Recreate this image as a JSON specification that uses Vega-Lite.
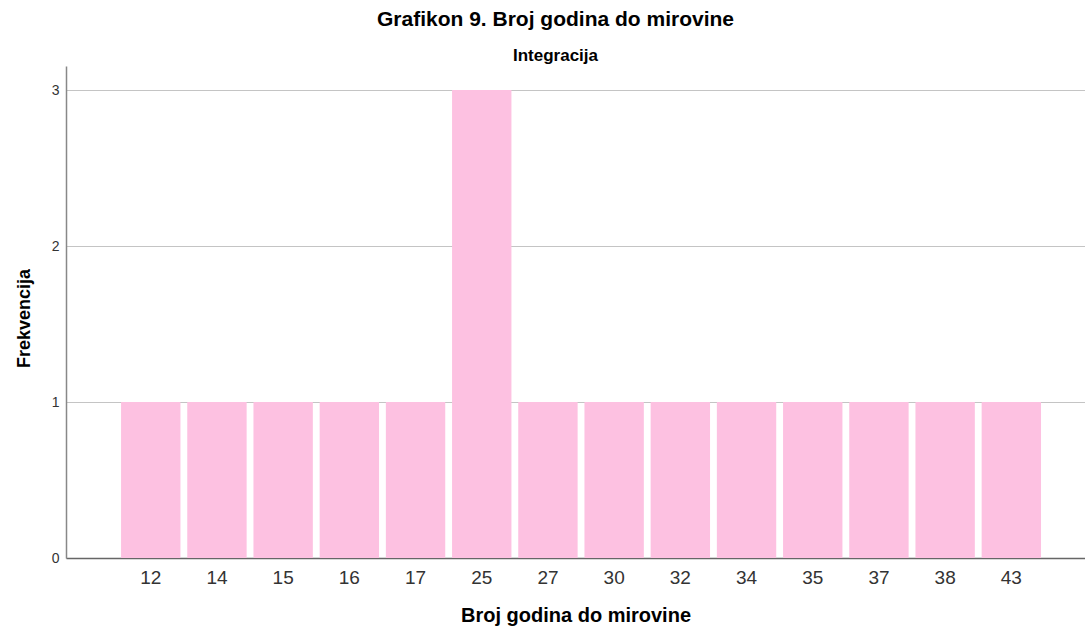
{
  "$schema": "https://vega.github.io/schema/vega-lite/v6.json",
  "autosize": {"type": "none"},
  "padding": {"left": 66, "top": 66, "right": 0, "bottom": 75},
  "width": 1019,
  "height": 492,
  "background": "white",
  "title": {
    "text": "Grafikon 9. Broj godina do mirovine",
    "subtitle": "Integracija",
    "anchor": "middle",
    "dx": -20,
    "font": "Liberation Sans",
    "fontSize": 21,
    "fontWeight": "bold",
    "color": "#000000",
    "subtitleFont": "Liberation Sans",
    "subtitleFontSize": 17,
    "subtitleFontWeight": "bold",
    "subtitleColor": "#000000",
    "subtitlePadding": 18,
    "offset": 2
  },
  "data": {
    "values": [
      {"godine": "12", "frekvencija": 1},
      {"godine": "14", "frekvencija": 1},
      {"godine": "15", "frekvencija": 1},
      {"godine": "16", "frekvencija": 1},
      {"godine": "17", "frekvencija": 1},
      {"godine": "25", "frekvencija": 3},
      {"godine": "27", "frekvencija": 1},
      {"godine": "30", "frekvencija": 1},
      {"godine": "32", "frekvencija": 1},
      {"godine": "34", "frekvencija": 1},
      {"godine": "35", "frekvencija": 1},
      {"godine": "37", "frekvencija": 1},
      {"godine": "38", "frekvencija": 1},
      {"godine": "43", "frekvencija": 1}
    ]
  },
  "mark": {"type": "bar", "color": "#fdc1e1"},
  "encoding": {
    "x": {
      "field": "godine",
      "type": "ordinal",
      "sort": null,
      "scale": {"paddingInner": 0.103, "paddingOuter": 0.748, "align": 0.556},
      "axis": {
        "title": "Broj godina do mirovine",
        "titleFont": "Liberation Sans",
        "titleFontSize": 20,
        "titleFontWeight": "bold",
        "titleColor": "#000000",
        "titlePadding": 18,
        "labelAngle": 0,
        "labelFont": "Liberation Sans",
        "labelFontSize": 19,
        "labelColor": "#333333",
        "labelPadding": 10,
        "ticks": false,
        "domainColor": "#666666",
        "domainWidth": 1.5,
        "grid": false
      }
    },
    "y": {
      "field": "frekvencija",
      "type": "quantitative",
      "scale": {"domain": [0, 3.154], "nice": false},
      "axis": {
        "title": "Frekvencija",
        "titleFont": "Liberation Sans",
        "titleFontSize": 18,
        "titleFontWeight": "bold",
        "titleColor": "#000000",
        "titlePadding": 18,
        "titleY": 252,
        "values": [0, 1, 2, 3],
        "format": "d",
        "labelFont": "Liberation Sans",
        "labelFontSize": 14,
        "labelColor": "#333333",
        "labelPadding": 7,
        "ticks": false,
        "domainColor": "#888888",
        "domainWidth": 1.5,
        "grid": true,
        "gridColor": "#c4c4c4",
        "gridWidth": 1
      }
    }
  },
  "config": {
    "view": {"stroke": null}
  }
}
